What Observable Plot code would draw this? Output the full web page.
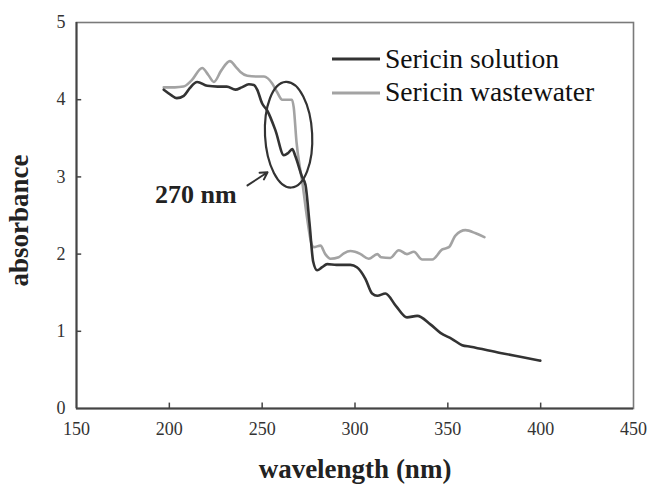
<!DOCTYPE html>
<html>
<head>
<meta charset="utf-8">
<script src="https://cdn.jsdelivr.net/npm/d3@7"></script>
<script src="https://cdn.jsdelivr.net/npm/@observablehq/plot@0.6"></script>
<style>
  html, body { margin: 0; padding: 0; background: #fff; }
  #wrap { position: relative; width: 648px; height: 490px; overflow: hidden; background: #fff; }
  #legend { position: absolute; left: 0; top: 0; }
  #wrap svg text { font-family: 'Liberation Serif', 'Times New Roman', Times, serif; }
</style>
</head>
<body>
<div id="wrap"></div>
<script>
// ---- Data ----
const seriesNames = ["Sericin solution", "Sericin wastewater"];
const seriesColors = ["#333333", "#a3a3a3"];

const solutionWl = [197, 201, 204, 207.8, 211, 215, 220.4, 226, 231, 235.6, 239, 242.8, 245.5, 247.3, 250, 252.7, 257.2, 261.7, 264, 266.2, 268, 271.5, 273.3, 275.5, 277.5, 279.6, 282.3, 285, 290, 297.5, 301, 305.6, 309.2, 312, 316.4, 322, 328, 333.5, 340.6, 346, 352.3, 357.7, 362.2, 378.3, 389, 399.8];
const solutionAbs = [4.13, 4.06, 4.02, 4.05, 4.15, 4.23, 4.18, 4.17, 4.17, 4.13, 4.16, 4.20, 4.19, 4.13, 3.95, 3.86, 3.60, 3.28, 3.31, 3.36, 3.26, 3.00, 2.90, 2.40, 1.90, 1.79, 1.83, 1.87, 1.86, 1.86, 1.83, 1.68, 1.49, 1.46, 1.49, 1.33, 1.18, 1.20, 1.09, 0.98, 0.90, 0.82, 0.80, 0.72, 0.67, 0.62];

const wastewaterWl = [197, 203, 207.6, 212, 217.7, 221, 224, 228, 232.6, 236, 238.3, 242, 247, 251, 255.4, 258, 260.8, 263, 266, 267, 268.5, 270.6, 271.5, 274, 276.9, 277.8, 281.4, 284, 286.8, 291.2, 294, 297.5, 300, 303, 307.4, 312, 314, 319, 323.6, 328, 331.7, 336.2, 341.6, 347, 350.6, 354.1, 359.5, 365, 369.7];
const wastewaterAbs = [4.16, 4.16, 4.17, 4.25, 4.41, 4.32, 4.23, 4.38, 4.50, 4.42, 4.36, 4.31, 4.30, 4.30, 4.21, 4.10, 4.00, 4.00, 4.00, 3.90, 3.45, 3.08, 2.95, 2.50, 2.11, 2.09, 2.11, 2.00, 1.94, 1.96, 2.01, 2.04, 2.03, 2.00, 1.94, 2.00, 1.96, 1.95, 2.05, 2.00, 2.03, 1.93, 1.93, 2.06, 2.09, 2.24, 2.31, 2.27, 2.22];

const xTicks = [150, 200, 250, 300, 350, 400, 450];
const yTicks = [0, 1, 2, 3, 4, 5];

// annotation (in data units)
const ellipseAnno = [{wl: 264.5, abs: 3.54, rWl: 12.7, rAbs: 0.685, angle: -3}];
const arrowAnno = [{wl1: 242.1, abs1: 2.89, wl2: 252.9, abs2: 3.06}];
const labelAnno = [{wl: 214.3, abs: 2.77, text: "270 nm"}];

// ---- Tables ----
const solution = solutionWl.map((w, i) => ({wl: w, abs: solutionAbs[i]}));
const wastewater = wastewaterWl.map((w, i) => ({wl: w, abs: wastewaterAbs[i]}));

const serif = "Liberation Serif";
const axisColor = "#444";

const ellipseMark = (index, scales) => {
  const g = document.createElementNS("http://www.w3.org/2000/svg", "g");
  for (const a of ellipseAnno) {
    const cx = scales.x(a.wl), cy = scales.y(a.abs);
    const rx = Math.abs(scales.x(a.wl + a.rWl) - cx);
    const ry = Math.abs(scales.y(a.abs + a.rAbs) - cy);
    const el = document.createElementNS("http://www.w3.org/2000/svg", "ellipse");
    el.setAttribute("cx", cx); el.setAttribute("cy", cy);
    el.setAttribute("rx", rx); el.setAttribute("ry", ry);
    el.setAttribute("transform", `rotate(${a.angle} ${cx} ${cy})`);
    el.setAttribute("fill", "none");
    el.setAttribute("stroke", "#333");
    el.setAttribute("stroke-width", 2.2);
    g.appendChild(el);
  }
  return g;
};

const chart = Plot.plot({
  width: 648,
  height: 490,
  marginLeft: 76,
  marginRight: 15,
  marginTop: 22,
  marginBottom: 82,
  style: {fontFamily: serif, background: "white", color: "#333", overflow: "visible"},
  x: {domain: [150, 450]},
  y: {domain: [0, 5]},
  marks: [
    Plot.frame({stroke: "#7a7a7a", strokeWidth: 1.6}),
    Plot.ruleX([150], {stroke: axisColor, strokeWidth: 2}),
    Plot.ruleY([0], {stroke: axisColor, strokeWidth: 2}),
    Plot.ruleX(xTicks.slice(1, -1), {x: d => d, y1: 0, y2: 0.07, stroke: axisColor, strokeWidth: 1.5}),
    Plot.ruleY(yTicks.slice(1, -1), {y: d => d, x1: 150, x2: 152.8, stroke: axisColor, strokeWidth: 1.5}),
    Plot.axisX({ticks: xTicks, tickSize: 0, tickPadding: 14, fontSize: 18, fontFamily: serif, label: null, tickFormat: d => String(d)}),
    Plot.axisY({ticks: yTicks, tickSize: 0, tickPadding: 11, fontSize: 18, fontFamily: serif, label: null, tickFormat: d => String(d)}),
    Plot.line(wastewater, {x: "wl", y: "abs", stroke: seriesColors[1], strokeWidth: 2.6, curve: "monotone-x"}),
    Plot.line(solution, {x: "wl", y: "abs", stroke: seriesColors[0], strokeWidth: 2.6, curve: "monotone-x"}),
    ellipseMark,
    Plot.arrow(arrowAnno, {x1: "wl1", y1: "abs1", x2: "wl2", y2: "abs2", stroke: "#333", strokeWidth: 2, headLength: 9}),
    Plot.text(labelAnno, {x: "wl", y: "abs", text: "text", fontSize: 26, fontWeight: "bold", fontFamily: serif, fill: "#222", textAnchor: "middle"}),
    Plot.text(["wavelength (nm)"], {frameAnchor: "bottom", dy: 69, fontSize: 27, fontWeight: "bold", fontFamily: serif, fill: "#222", textAnchor: "middle"}),
    Plot.text(["absorbance"], {frameAnchor: "left", dx: -57, dy: 5, rotate: -90, fontSize: 27, fontWeight: "bold", fontFamily: serif, fill: "#222", textAnchor: "middle"})
  ]
});

const wrap = document.getElementById("wrap");
wrap.appendChild(chart);

// ---- Legend overlay ----
const legendRows = [
  {name: seriesNames[0], color: seriesColors[0], lineY: 59, textY: 68},
  {name: seriesNames[1], color: seriesColors[1], lineY: 93, textY: 101}
];
const leg = d3.create("svg").attr("id", "legend").attr("width", 648).attr("height", 130);
for (const r of legendRows) {
  leg.append("line").attr("x1", 332).attr("x2", 380).attr("y1", r.lineY).attr("y2", r.lineY)
    .attr("stroke", r.color).attr("stroke-width", 3);
  leg.append("text").attr("x", 385).attr("y", r.textY).text(r.name)
    .attr("font-family", serif).attr("font-size", 27.6).attr("fill", "#111");
}
wrap.appendChild(leg.node());
</script>
</body>
</html>
